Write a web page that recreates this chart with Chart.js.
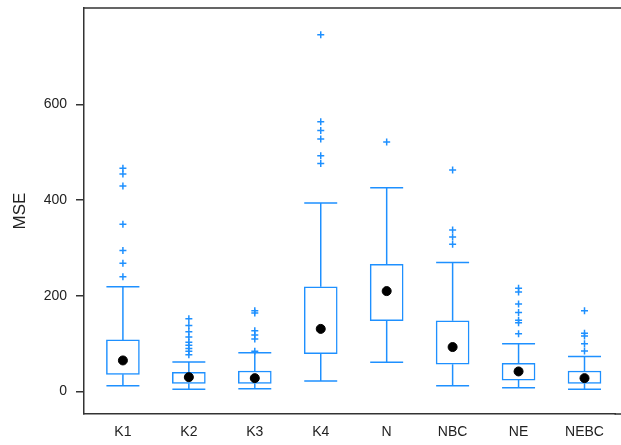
<!DOCTYPE html>
<html>
<head>
<meta charset="utf-8">
<script src="https://cdn.jsdelivr.net/npm/chart.js@4"></script>
<style>
  html, body { margin: 0; padding: 0; background: #fff; }
  #wrap { width: 621px; height: 445px; }
</style>
</head>
<body>
<div id="wrap"><canvas id="boxChart"></canvas></div>
<script>
// Box plot data
const categories = ["K1", "K2", "K3", "K4", "N", "NBC", "NE", "NEBC"];
const whiskerLow = [12, 5, 6, 22, 61, 12, 8, 5];
const boxLow = [36, 17, 17, 79, 148, 57, 24, 17];
const boxHigh = [108, 40, 43, 219, 266, 148, 59, 43];
const whiskerHigh = [219, 62, 81, 394, 426, 270, 100, 73];
const means = [65, 30, 28, 131, 210, 93, 42, 28];
const outliers = [
  [467, 455, 430, 350, 295, 268, 240],
  [152, 138, 125, 114, 103, 97, 90, 84, 77],
  [169, 164, 127, 118, 110, 84],
  [746, 564, 546, 528, 493, 477],
  [522],
  [463, 338, 323, 308],
  [216, 208, 183, 165, 149, 144, 121],
  [169, 122, 116, 100, 85],
];
const yTicks = [0, 200, 400, 600];

const blue = "#1e90ff";
const axisColor = "#333";
const capHalf = 0.25; // half cap width, in category units

// Whiskers: vertical stems + caps, broken up with null points
const whiskerPts = [];
categories.forEach((c, i) => {
  whiskerPts.push({ x: i - capHalf, y: whiskerLow[i] }, { x: i + capHalf, y: whiskerLow[i] }, { x: i, y: null });
  whiskerPts.push({ x: i, y: whiskerLow[i] }, { x: i, y: boxLow[i] }, { x: i, y: null });
  whiskerPts.push({ x: i, y: boxHigh[i] }, { x: i, y: whiskerHigh[i] }, { x: i, y: null });
  whiskerPts.push({ x: i - capHalf, y: whiskerHigh[i] }, { x: i + capHalf, y: whiskerHigh[i] }, { x: i, y: null });
});

const outlierPts = [];
outliers.forEach((list, i) => list.forEach((v) => outlierPts.push({ x: i, y: v })));

// Top frame line, and bottom axis carried to the right edge (no right border)
const frameLines = {
  id: "frameLines",
  afterDraw(chart) {
    const { ctx, chartArea } = chart;
    ctx.save();
    ctx.strokeStyle = axisColor;
    ctx.lineWidth = 1.5;
    ctx.beginPath();
    ctx.moveTo(chartArea.left, chartArea.top);
    ctx.lineTo(chart.width, chartArea.top);
    ctx.moveTo(chartArea.right - 1, chartArea.bottom);
    ctx.lineTo(chart.width, chartArea.bottom);
    ctx.stroke();
    ctx.restore();
  },
};

const ctx = document.getElementById("boxChart").getContext("2d");
new Chart(ctx, {
  type: "bar",
  data: {
    datasets: [
      {
        type: "scatter",
        data: categories.map((c, i) => ({ x: i, y: means[i] })),
        pointStyle: "circle",
        pointRadius: 4.5,
        backgroundColor: "#000",
        borderColor: "#000",
        order: 0,
      },
      {
        type: "scatter",
        data: outlierPts,
        pointStyle: "cross",
        pointRadius: 3.5,
        borderWidth: 1.5,
        borderColor: blue,
        order: 1,
      },
      {
        type: "line",
        data: whiskerPts,
        borderColor: blue,
        borderWidth: 1.5,
        pointRadius: 0,
        spanGaps: false,
        order: 2,
      },
      {
        type: "bar",
        data: categories.map((c, i) => ({ x: i, y: [boxLow[i], boxHigh[i]] })),
        backgroundColor: "#fff",
        borderColor: blue,
        borderWidth: 1.5,
        borderSkipped: false,
        barThickness: 33,
        order: 3,
      },
    ],
  },
  options: {
    responsive: true,
    maintainAspectRatio: false,
    animation: false,
    layout: { padding: { top: 0, right: 0, left: 0, bottom: 0 } },
    plugins: {
      legend: { display: false },
      tooltip: { enabled: false },
    },
    scales: {
      x: {
        type: "linear",
        offset: false,
        min: -0.59,
        max: 7.47,
        grid: { display: false, drawTicks: false },
        border: { display: true, color: axisColor, width: 1.5 },
        afterBuildTicks: (scale) => {
          scale.ticks = categories.map((c, i) => ({ value: i }));
        },
        afterFit: (scale) => {
          scale.height = 31;
          scale.paddingLeft = 0;
          scale.paddingRight = 0;
        },
        ticks: {
          padding: 10,
          color: "#222",
          maxRotation: 0,
          font: { family: "Liberation Sans, Arial, sans-serif", size: 14 },
          callback: (v) => categories[v] ?? "",
        },
      },
      y: {
        min: -47,
        max: 802,
        grid: { drawOnChartArea: false, drawTicks: true, tickLength: 8, color: axisColor, lineWidth: 1.5 },
        border: { display: true, color: axisColor, width: 1.5 },
        afterBuildTicks: (scale) => {
          scale.ticks = yTicks.map((v) => ({ value: v }));
        },
        afterFit: (scale) => {
          scale.width = 84;
          scale.paddingTop = 8;
          scale.paddingBottom = 0;
        },
        ticks: {
          padding: 9,
          color: "#222",
          font: { family: "Liberation Sans, Arial, sans-serif", size: 14 },
        },
        title: {
          display: true,
          text: "MSE",
          color: "#222",
          padding: { top: 10, bottom: 0 },
          font: { family: "Liberation Sans, Arial, sans-serif", size: 17 },
        },
      },
    },
  },
  plugins: [frameLines],
});
</script>
</body>
</html>
